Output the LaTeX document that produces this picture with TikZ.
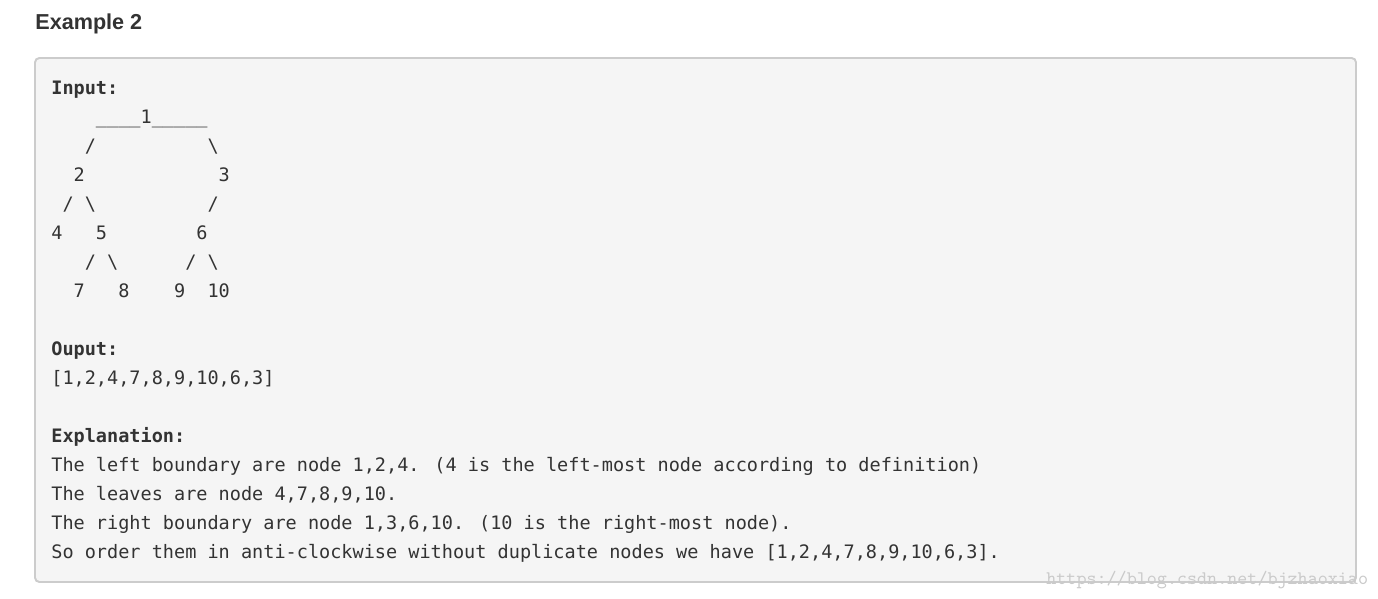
\documentclass[tikz,border=0pt]{standalone}
\usepackage{fontspec}
\setmainfont{Liberation Sans}
\newfontfamily\codefont{DejaVu Sans Mono}
\usepackage{tikz}
\usetikzlibrary{positioning}
\definecolor{PageWhite}{HTML}{FFFFFF}
\definecolor{TextDark}{HTML}{333333}
\definecolor{PreFill}{HTML}{F5F5F5}
\definecolor{PreBorder}{HTML}{CCCCCC}
\definecolor{MarkGray}{HTML}{CACACA}
\tikzset{
  codeline/.style={anchor=base west, inner sep=0pt, text=TextDark,
    font=\codefont\fontsize{10.55}{12}\selectfont},
  codehead/.style={codeline, font=\codefont\bfseries\fontsize{10.55}{12}\selectfont}
}

\begin{document}
\begin{tikzpicture}[x=0.02cm, y=-0.02cm]

    % Background
    \useasboundingbox (0,0) rectangle (1378,598);
    \fill[PageWhite] (0,0) rectangle (1378,598);

    % Title
    \node[anchor=base west, inner sep=0pt, text=TextDark,
          font=\bfseries\fontsize{12.3}{14}\selectfont] (title) at (35,30) {Example 2};

    % Code box
    \draw[PreBorder, fill=PreFill, line width=1.1pt, rounded corners=2.5pt]
        (35,58) rectangle (1356,582);

    % Input
    \node[codehead] (input) at (51,94) {Input:};
    \foreach \n/\t in {1/{~~~~\_\_\_\_1\_\_\_\_\_},
                       2/{~~~/~~~~~~~~~~\textbackslash},
                       3/{~~2~~~~~~~~~~~~3},
                       4/{~/~\textbackslash~~~~~~~~~~/},
                       5/{4~~~5~~~~~~~~6},
                       6/{~~~/~\textbackslash~~~~~~/~\textbackslash},
                       7/{~~7~~~8~~~~9~~10}}
        \node[codeline] (tree\n) at (51,94+29*\n) {\t};

    % Output
    \node[codehead] (ouput) at (51,355) {Ouput:};
    \node[codeline] (result) at (51,384) {[1,2,4,7,8,9,10,6,3]};

    % Explanation
    \node[codehead] (expl) at (51,442) {Explanation:};
    \node[codeline] (expl1) at (51,471) {The left boundary are node 1,2,4. (4 is the left-most node according to definition)};
    \node[codeline] (expl2) at (51,500) {The leaves are node 4,7,8,9,10.};
    \node[codeline] (expl3) at (51,529) {The right boundary are node 1,3,6,10. (10 is the right-most node).};
    \node[codeline] (expl4) at (51,558) {So order them in anti-clockwise without duplicate nodes we have [1,2,4,7,8,9,10,6,3].};

    % Watermark
    \node[anchor=base west, inner sep=0pt, text=MarkGray,
          font=\ttfamily\fontsize{10.9}{12}\selectfont] (mark) at (1046,584) {https://blog.csdn.net/bjzhaoxiao};

\end{tikzpicture}
\end{document}
